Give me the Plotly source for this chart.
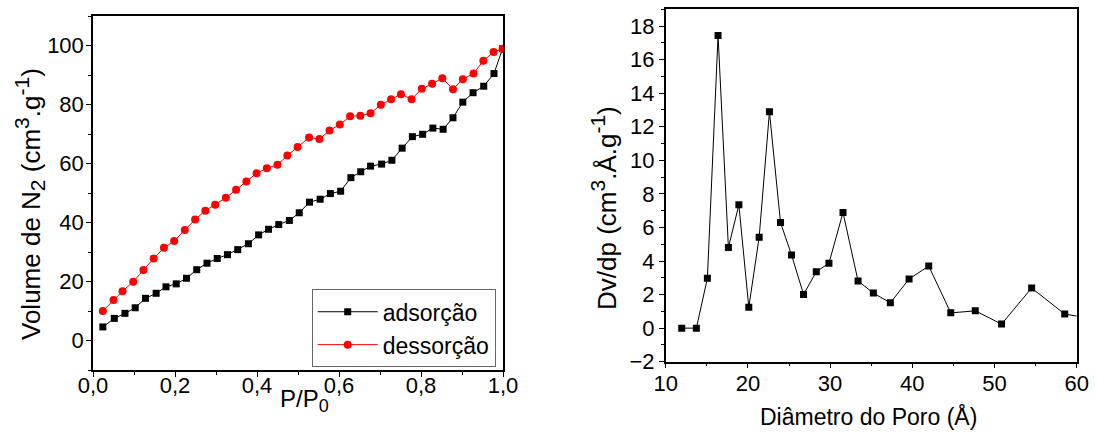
import plotly.graph_objects as go

# ---- Left panel: N2 isotherm ----
p_ads = [0.024, 0.052, 0.078, 0.103, 0.128, 0.154, 0.178, 0.203, 0.228, 0.253,
         0.278, 0.303, 0.328, 0.353, 0.379, 0.404, 0.428, 0.453, 0.479, 0.503,
         0.528, 0.554, 0.579, 0.604, 0.629, 0.653, 0.677, 0.704, 0.729, 0.754,
         0.779, 0.804, 0.829, 0.854, 0.878, 0.902, 0.927, 0.953, 0.978, 0.999]
v_ads = [4.6, 7.5, 9.2, 11.1, 14.3, 16.0, 18.2, 19.2, 21.1, 24.0,
         26.2, 27.8, 29.1, 30.8, 32.8, 35.8, 37.7, 39.3, 40.7, 43.3,
         46.9, 47.9, 49.8, 50.6, 55.2, 57.2, 59.1, 59.8, 61.1, 65.2,
         69.1, 69.9, 72.0, 71.6, 75.5, 80.8, 84.0, 86.2, 90.5, 98.9]

p_des = [0.024, 0.050, 0.072, 0.098, 0.123, 0.148, 0.173, 0.198, 0.224, 0.249,
         0.274, 0.298, 0.324, 0.349, 0.374, 0.399, 0.424, 0.450, 0.474, 0.499,
         0.527, 0.552, 0.577, 0.602, 0.627, 0.652, 0.677, 0.702, 0.727, 0.751,
         0.777, 0.802, 0.827, 0.852, 0.878, 0.902, 0.928, 0.952, 0.977, 0.999]
v_des = [10.0, 13.7, 16.7, 19.9, 23.9, 27.8, 31.4, 33.7, 37.5, 41.0,
         44.0, 46.0, 48.4, 51.1, 53.9, 56.7, 58.4, 59.6, 62.7, 65.6,
         68.8, 68.3, 71.2, 73.2, 76.0, 76.2, 77.0, 79.9, 81.8, 83.5,
         81.8, 85.3, 87.0, 88.9, 85.2, 88.6, 90.5, 94.8, 97.8, 98.9]

# ---- Right panel: pore size distribution ----
diam = [11.95, 13.73, 15.07, 16.37, 17.63, 18.90, 20.11, 21.37, 22.62, 23.97,
        25.31, 26.77, 28.32, 29.86, 31.57, 33.40, 35.26, 37.33, 39.61, 42.0,
        44.68, 47.66, 50.86, 54.52, 58.54, 62.9]
dvdp = [0.0, 0.0, 2.97, 17.44, 4.80, 7.35, 1.24, 5.42, 12.89, 6.29,
        4.36, 2.01, 3.36, 3.87, 6.89, 2.81, 2.09, 1.51, 2.93, 3.70,
        0.91, 1.03, 0.24, 2.39, 0.84, 0.48]

left_xticks = [0.0, 0.2, 0.4, 0.6, 0.8, 1.0]
left_xticktext = ["0,0", "0,2", "0,4", "0,6", "0,8", "1,0"]
left_yticks = [0, 20, 40, 60, 80, 100]
right_xticks = [10, 20, 30, 40, 50, 60]
right_yticks = [-2, 0, 2, 4, 6, 8, 10, 12, 14, 16, 18]

FONT = "Liberation Sans, Arial, sans-serif"
W, H = 1097, 435

fig = go.Figure()
fig.add_trace(go.Scatter(x=p_ads, y=v_ads, mode="lines+markers", name="adsorção",
                         line=dict(color="black", width=1),
                         marker=dict(symbol="square", size=7, color="black"),
                         xaxis="x", yaxis="y"))
fig.add_trace(go.Scatter(x=p_des, y=v_des, mode="lines+markers", name="dessorção",
                         line=dict(color="red", width=1),
                         marker=dict(symbol="circle", size=8, color="red"),
                         xaxis="x", yaxis="y"))
fig.add_trace(go.Scatter(x=diam, y=dvdp, mode="lines+markers", showlegend=False,
                         line=dict(color="black", width=1),
                         marker=dict(symbol="square", size=7, color="black"),
                         xaxis="x2", yaxis="y2"))

axis_common = dict(showgrid=False, zeroline=False, showline=True, linecolor="black",
                   linewidth=1.5, mirror=True, ticks="outside", ticklen=5,
                   tickwidth=1.2, tickcolor="black", automargin=False,
                   tickfont=dict(family=FONT, size=22, color="black"))

fig.update_layout(
    width=W, height=H,
    margin=dict(l=0, r=0, t=0, b=0, pad=0, autoexpand=False),
    paper_bgcolor="white", plot_bgcolor="white",
    font=dict(family=FONT, size=22, color="black"),
    xaxis=dict(domain=[93 / W, 503 / W], range=[0, 1.0], anchor="y",
               tickvals=left_xticks, ticktext=left_xticktext, ticklabelstandoff=-10,
               minor=dict(dtick=0.1, tick0=0, ticks="outside", ticklen=3, tickcolor="black"),
               **axis_common),
    yaxis=dict(domain=[1 - 370 / H, 1 - 16 / H], range=[-10, 110], anchor="x",
               tickvals=left_yticks, ticklabelstandoff=-2,
               minor=dict(dtick=10, tick0=0, ticks="outside", ticklen=3, tickcolor="black"),
               **axis_common),
    xaxis2=dict(domain=[665.7 / W, 1076.7 / W], range=[10, 60], anchor="y2",
                tickvals=right_xticks, ticklabelstandoff=-4,
                minor=dict(dtick=5, tick0=0, ticks="outside", ticklen=3, tickcolor="black"),
                **axis_common),
    yaxis2=dict(domain=[1 - 361.7 / H, 1 - 9.3 / H], range=[-2, 19], anchor="x2",
                tickvals=right_yticks,
                minor=dict(dtick=1, tick0=0, ticks="outside", ticklen=3, tickcolor="black"),
                **axis_common),
    legend=dict(x=311.7 / W, y=1 - 289.3 / H, xanchor="left", yanchor="top",
                bordercolor="#666666", borderwidth=1, bgcolor="white",
                font=dict(family=FONT, size=23, color="black"),
                tracegroupgap=0, itemwidth=60),
)

S = '<span style="font-size:{}px">{}</span>'
annots = [
    dict(text="Volume de N<sub>" + S.format(21, "2") + "</sub> (cm<sup>" + S.format(21, "3")
         + "</sup>.g<sup>" + S.format(21, "-1") + "</sup>)",
         x=29 / W, y=1 - 204 / H, textangle=-90, size=26),
    dict(text="P/P<sub>" + S.format(18, "0") + "</sub>", x=305 / W, y=1 - 400 / H, size=24),
    dict(text="Diâmetro do Poro (Å)", x=868 / W, y=1 - 416 / H, size=23),
    dict(text="Dv/dp (cm<sup>" + S.format(21, "3") + "</sup>.Å.g<sup>" + S.format(21, "-1") + "</sup>)",
         x=604 / W, y=1 - 208 / H, textangle=-90, size=26),
]
for a in annots:
    sz = a.pop("size")
    fig.add_annotation(xref="paper", yref="paper", showarrow=False,
                       xanchor="center", yanchor="middle",
                       font=dict(family=FONT, size=sz, color="black"), **a)

fig.write_html("out.html")
